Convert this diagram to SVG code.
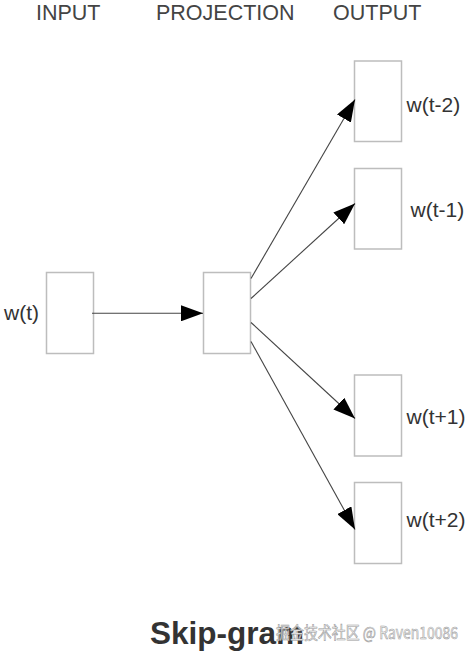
<svg xmlns="http://www.w3.org/2000/svg" width="474" height="657" viewBox="0 0 474 657">
<style>
.box{fill:#fff;stroke:#bdbdbd;stroke-width:1.5}
.hdr{font-family:"Liberation Sans",Arial,sans-serif;font-size:21.5px;fill:#444}
.lbl{font-family:"Liberation Sans",Arial,sans-serif;font-size:21px;fill:#333}
.edge{stroke:#444;stroke-width:1.1;fill:none;marker-end:url(#ah)}
</style>
<defs>
<marker id="ah" markerWidth="22" markerHeight="16" refX="22" refY="8" orient="auto" markerUnits="userSpaceOnUse">
<path d="M0,0 L22,8 L0,16 Z" fill="#000"/>
</marker>
</defs>
<rect width="474" height="657" fill="#fff"/>
<text class="hdr" x="36" y="20">INPUT</text>
<text class="hdr" x="156" y="20">PROJECTION</text>
<text class="hdr" x="333" y="20">OUTPUT</text>
<g id="input"><rect class="box" x="46.5" y="272.5" width="47" height="81"/><text class="lbl" x="4" y="320">w(t)</text></g>
<g id="projection"><rect class="box" x="203.5" y="272.5" width="47" height="81"/></g>
<g id="out1"><rect class="box" x="354.5" y="61" width="47" height="80.5"/><text class="lbl" x="406.5" y="112">w(t-2)</text></g>
<g id="out2"><rect class="box" x="354.5" y="168.5" width="47" height="80.5"/><text class="lbl" x="410.5" y="217">w(t-1)</text></g>
<g id="out3"><rect class="box" x="354.5" y="375" width="47" height="81"/><text class="lbl" x="406.5" y="424">w(t+1)</text></g>
<g id="out4"><rect class="box" x="354.5" y="482.5" width="47" height="81"/><text class="lbl" x="406.5" y="527">w(t+2)</text></g>
<g id="connectors">
<line class="edge" x1="92" y1="313.3" x2="203" y2="313.3"/>
<line class="edge" x1="251" y1="278.5" x2="355" y2="99.5"/>
<line class="edge" x1="251" y1="298.5" x2="355" y2="203.5"/>
<line class="edge" x1="251" y1="322.5" x2="355" y2="418.5"/>
<line class="edge" x1="251" y1="341.5" x2="355" y2="529.5"/>
</g>
<text x="150" y="644.3" font-family="Liberation Sans,Arial,sans-serif" font-weight="bold" font-size="31.5" fill="#333">Skip-gram</text>
<text x="276" y="639" font-family="'Noto Sans CJK SC','Liberation Sans',sans-serif" font-size="17" fill="#f4f4f4" stroke="#999" stroke-width="0.6" textLength="182" lengthAdjust="spacingAndGlyphs">掘金技术社区 @ Raven10086</text>
</svg>
